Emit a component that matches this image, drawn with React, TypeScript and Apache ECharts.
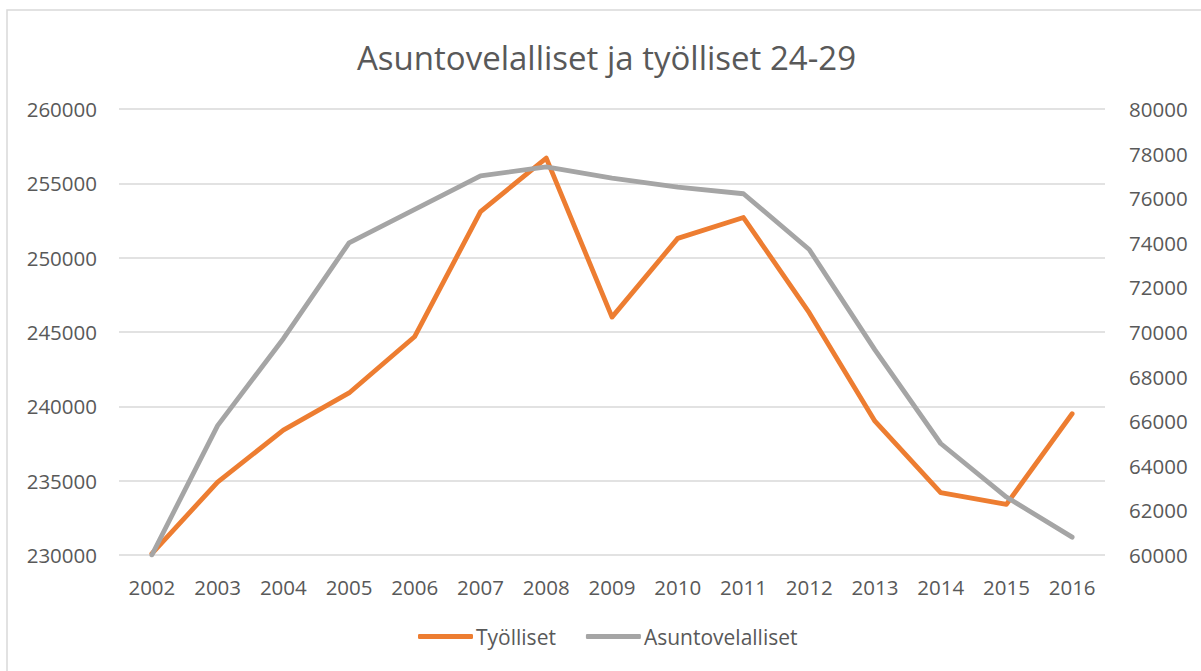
import React, { useEffect, useRef } from "react";
import * as echarts from "echarts";

const years = ["2002","2003","2004","2005","2006","2007","2008","2009","2010","2011","2012","2013","2014","2015","2016"];
const tyolliset = [230100, 234900, 238400, 240900, 244700, 253100, 256700, 246000, 251300, 252700, 246300, 239000, 234200, 233400, 239500];
const asuntovelalliset = [60000, 65800, 69700, 74000, 75500, 77000, 77400, 76900, 76500, 76200, 73700, 69200, 65000, 62600, 60800];

const FONT = "Open Sans";
const TEXT = "#595959";
const LABEL_SIZE = 20.5;

export default function App() {
  const ref = useRef<HTMLDivElement>(null);
  useEffect(() => {
    if (!ref.current) return;
    const chart = echarts.init(ref.current, undefined, { renderer: "svg" });
    chart.setOption({
      animation: false,
      backgroundColor: "#ffffff",
      textStyle: { fontFamily: FONT, color: TEXT },
      title: {
        text: "Asuntovelalliset ja työlliset 24-29",
        left: 352,
        top: 36,
        textStyle: { fontFamily: FONT, fontSize: 33, fontWeight: "normal", color: TEXT },
      },
      graphic: [
        {
          type: "rect",
          shape: { x: 7, y: 10, width: 1400, height: 900 },
          style: { fill: "none", stroke: "#D9D9D9", lineWidth: 1.5 },
          silent: true,
        },
      ],
      legend: {
        bottom: 19,
        left: 413,
        itemWidth: 55,
        itemHeight: 5,
        itemGap: 30,
        icon: "roundRect",
        textStyle: { fontFamily: FONT, fontSize: 21, color: TEXT, padding: [0, 0, 0, -2] },
        data: ["Työlliset", "Asuntovelalliset"],
      },
      grid: { left: 119, right: 96, top: 109, bottom: 116, containLabel: false },
      xAxis: {
        type: "category",
        data: years,
        boundaryGap: true,
        axisLine: { show: false },
        axisTick: { show: false },
        axisLabel: { fontFamily: FONT, fontSize: LABEL_SIZE, color: TEXT, margin: 21 },
      },
      yAxis: [
        {
          type: "value",
          min: 230000,
          max: 260000,
          interval: 5000,
          axisLine: { show: false },
          axisTick: { show: false },
          axisLabel: { fontFamily: FONT, fontSize: LABEL_SIZE, color: TEXT, margin: 22, formatter: (v: number) => String(v) },
          splitLine: { lineStyle: { color: "#D9D9D9", width: 1.5 } },
        },
        {
          type: "value",
          min: 60000,
          max: 80000,
          interval: 2000,
          axisLine: { show: false },
          axisTick: { show: false },
          axisLabel: { fontFamily: FONT, fontSize: LABEL_SIZE, color: TEXT, margin: 24, formatter: (v: number) => String(v) },
          splitLine: { show: false },
        },
      ],
      series: [
        {
          name: "Työlliset",
          type: "line",
          yAxisIndex: 0,
          data: tyolliset,
          symbol: "none",
          lineStyle: { color: "#ED7D31", width: 4.8, cap: "round", join: "round" },
          itemStyle: { color: "#ED7D31" },
          z: 2,
        },
        {
          name: "Asuntovelalliset",
          type: "line",
          yAxisIndex: 1,
          data: asuntovelalliset,
          symbol: "none",
          lineStyle: { color: "#A5A5A5", width: 4.8, cap: "round", join: "round" },
          itemStyle: { color: "#A5A5A5" },
          z: 3,
        },
      ],
    });
    return () => chart.dispose();
  }, []);
  return (
    <div
      ref={ref}
      style={{ position: "fixed", left: 0, top: 0, width: 1201, height: 671 }}
    />
  );
}
